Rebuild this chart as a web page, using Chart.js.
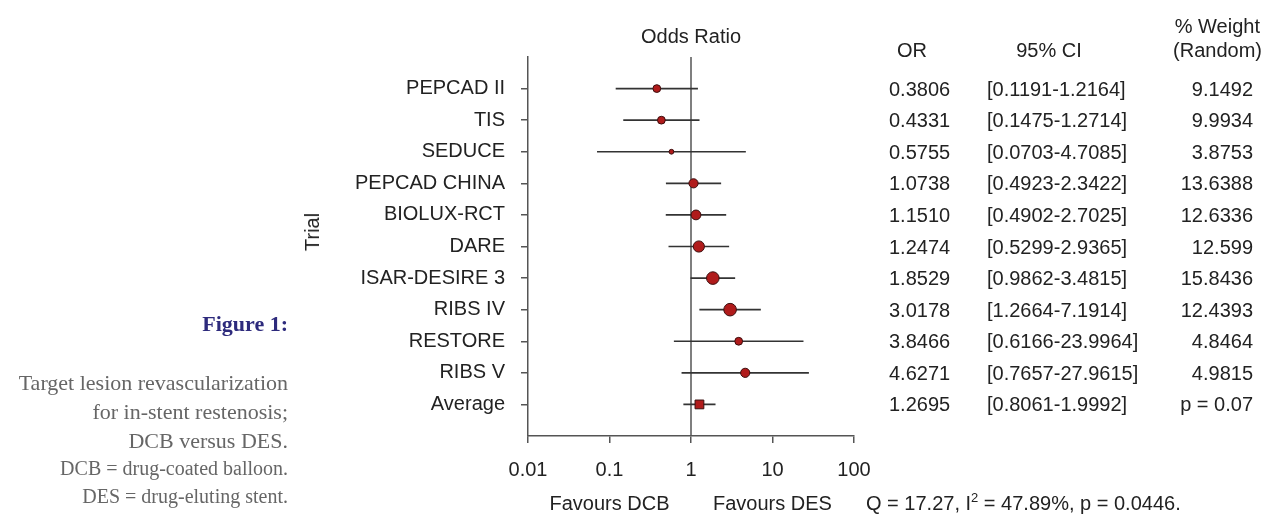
<!DOCTYPE html>
<html><head><meta charset="utf-8">
<script src="https://cdn.jsdelivr.net/npm/chart.js@4.4.1/dist/chart.umd.min.js"></script>
<style>
html,body{margin:0;padding:0;background:#fff;}
#wrap{position:relative;width:1265px;height:515px;overflow:hidden;background:#fff;}
canvas{position:absolute;left:0;top:0;}
.t{position:absolute;white-space:nowrap;font-family:"Liberation Sans",Arial,sans-serif;font-size:20px;line-height:20px;color:#222;}
.s{position:absolute;white-space:nowrap;font-family:"Liberation Serif","Times New Roman",serif;text-align:right;right:977px;}
sup{font-size:13px;line-height:0;vertical-align:8px;}
</style></head><body>
<div id="wrap"><canvas id="c" width="1265" height="515"></canvas></div>
<script>
// ---- data ----
const trials = ["PEPCAD II","TIS","SEDUCE","PEPCAD CHINA","BIOLUX-RCT","DARE","ISAR-DESIRE 3","RIBS IV","RESTORE","RIBS V","Average"];
const oddsRatio = [0.3806,0.4331,0.5755,1.0738,1.1510,1.2474,1.8529,3.0178,3.8466,4.6271,1.2695];
const ciLow = [0.1191,0.1475,0.0703,0.4923,0.4902,0.5299,0.9862,1.2664,0.6166,0.7657,0.8061];
const ciHigh = [1.2164,1.2714,4.7085,2.3422,2.7025,2.9365,3.4815,7.1914,23.9964,27.9615,1.9992];
const weights = [9.1492,9.9934,3.8753,13.6388,12.6336,12.599,15.8436,12.4393,4.8464,4.9815];
const pooledP = "p = 0.07";
const xTicks = [0.01,0.1,1,10,100];
const heterogeneity = {Q:"17.27", I2:"47.89%", p:"0.0446"};

// ---- styles ----
const markerRadius = [3.9,3.9,2.4,4.6,4.9,5.6,6.3,6.3,3.9,4.6,6.2];
const FONT = '"Liberation Sans", Arial, sans-serif';

const ciPlugin = {
  id:'ci',
  beforeDatasetsDraw(chart){
    const {ctx, chartArea, scales:{x,y}} = chart;
    ctx.save();
    ctx.strokeStyle='#555'; ctx.lineWidth=1.5;
    const x1 = x.getPixelForValue(1);
    ctx.beginPath(); ctx.moveTo(x1, chartArea.top); ctx.lineTo(x1, chartArea.bottom); ctx.stroke();
    ctx.strokeStyle='#333'; ctx.lineWidth=1.6;
    ciLow.forEach((lo,i)=>{
      const yy = y.getPixelForValue(i);
      ctx.beginPath();
      ctx.moveTo(x.getPixelForValue(lo), yy);
      ctx.lineTo(x.getPixelForValue(ciHigh[i]), yy);
      ctx.stroke();
    });
    ctx.restore();
  }
};

const chart = new Chart(document.getElementById('c'), {
  type:'scatter',
  data:{datasets:[{
    data: oddsRatio.map((v,i)=>({x:v,y:i})),
    pointRadius: markerRadius,
    pointStyle: trials.map((t,i)=> i===trials.length-1 ? 'rect' : 'circle'),
    backgroundColor:'#b01b1b',
    borderColor:'#3a0e0e',
    borderWidth:1,
    clip:false
  }]},
  options:{
    responsive:false, animation:false, events:[],
    layout:{padding:{left:300, top:57, right:1265-854, bottom:0}},
    plugins:{legend:{display:false}, tooltip:{enabled:false}, title:{display:false}},
    scales:{
      x:{
        type:'logarithmic', min:0.01, max:100,
        afterBuildTicks:s=>{ s.ticks = xTicks.map(v=>({value:v})); },
        afterFit:s=>{ s.height = 79; },
        ticks:{callback:v=>String(v), font:{family:FONT,size:20}, color:'#222', padding:15, maxRotation:0, autoSkip:false},
        grid:{drawOnChartArea:false, drawTicks:true, tickLength:7, color:'#555', lineWidth:1.5},
        border:{display:true, color:'#555', width:1.5}
      },
      y:{
        type:'linear', min:-1, max:11, reverse:true,
        afterBuildTicks:s=>{ s.ticks = trials.map((_,i)=>({value:i})); },
        afterFit:s=>{ s.width = 228; },
        ticks:{callback:v=>trials[v], font:{family:FONT,size:20}, color:'#222', padding:16, autoSkip:false},
        grid:{drawOnChartArea:false, drawTicks:true, tickLength:7, color:'#555', lineWidth:1.5},
        border:{display:true, color:'#555', width:1.5}
      }
    }
  },
  plugins:[ciPlugin]
});

// ---- text overlays ----
const wrap = document.getElementById('wrap');
function addText(html, cls, style){
  const d = document.createElement('div');
  d.className = cls; d.innerHTML = html;
  Object.assign(d.style, style);
  wrap.appendChild(d);
  return d;
}
const xs = chart.scales.x, ys = chart.scales.y;
addText('Odds Ratio','t',{left:xs.getPixelForValue(1)+'px', top:(36-10)+'px', transform:'translateX(-50%)'});
addText('Trial','t',{left:'312px', top:'232px', transform:'translate(-50%,-50%) rotate(-90deg)'});
addText('Favours DCB','t',{left:xs.getPixelForValue(0.1)+'px', top:(503-10)+'px', transform:'translateX(-50%)'});
addText('Favours DES','t',{left:xs.getPixelForValue(10)+'px', top:(503-10)+'px', transform:'translateX(-50%)'});
addText('Q = '+heterogeneity.Q+', I<sup>2</sup> = '+heterogeneity.I2+', p = '+heterogeneity.p+'.','t',{left:'866px', top:(503-10)+'px'});
addText('OR','t',{left:'912px', top:'40px', transform:'translateX(-50%)'});
addText('95% CI','t',{left:'1049px', top:'40px', transform:'translateX(-50%)'});
addText('% Weight','t',{right:'5px', top:'16px'});
addText('(Random)','t',{right:'3px', top:'40px'});
trials.forEach((t,i)=>{
  const yy = ys.getPixelForValue(i) - 10;
  addText(oddsRatio[i].toFixed(4),'t',{left:'889px', top:yy+'px'});
  addText('['+ciLow[i].toFixed(4)+'-'+ciHigh[i].toFixed(4)+']','t',{left:'987px', top:yy+'px'});
  addText(i < weights.length ? String(weights[i]) : pooledP,'t',{right:'12px', top:yy+'px'});
});
addText('Figure 1:','s',{top:'312.6px', fontSize:'22px', lineHeight:'22px', fontWeight:'bold', color:'#2d2a7c'});
addText('Target lesion revascularization','s',{top:'371.6px', fontSize:'22px', lineHeight:'22px', color:'#666'});
addText('for in-stent restenosis;','s',{top:'400.6px', fontSize:'22px', lineHeight:'22px', color:'#666'});
addText('DCB versus DES.','s',{top:'430px', fontSize:'22px', lineHeight:'22px', color:'#666'});
addText('DCB = drug-coated balloon.','s',{top:'458px', fontSize:'20px', lineHeight:'20px', color:'#666'});
addText('DES = drug-eluting stent.','s',{top:'486px', fontSize:'20px', lineHeight:'20px', color:'#666'});
</script>
</body></html>
